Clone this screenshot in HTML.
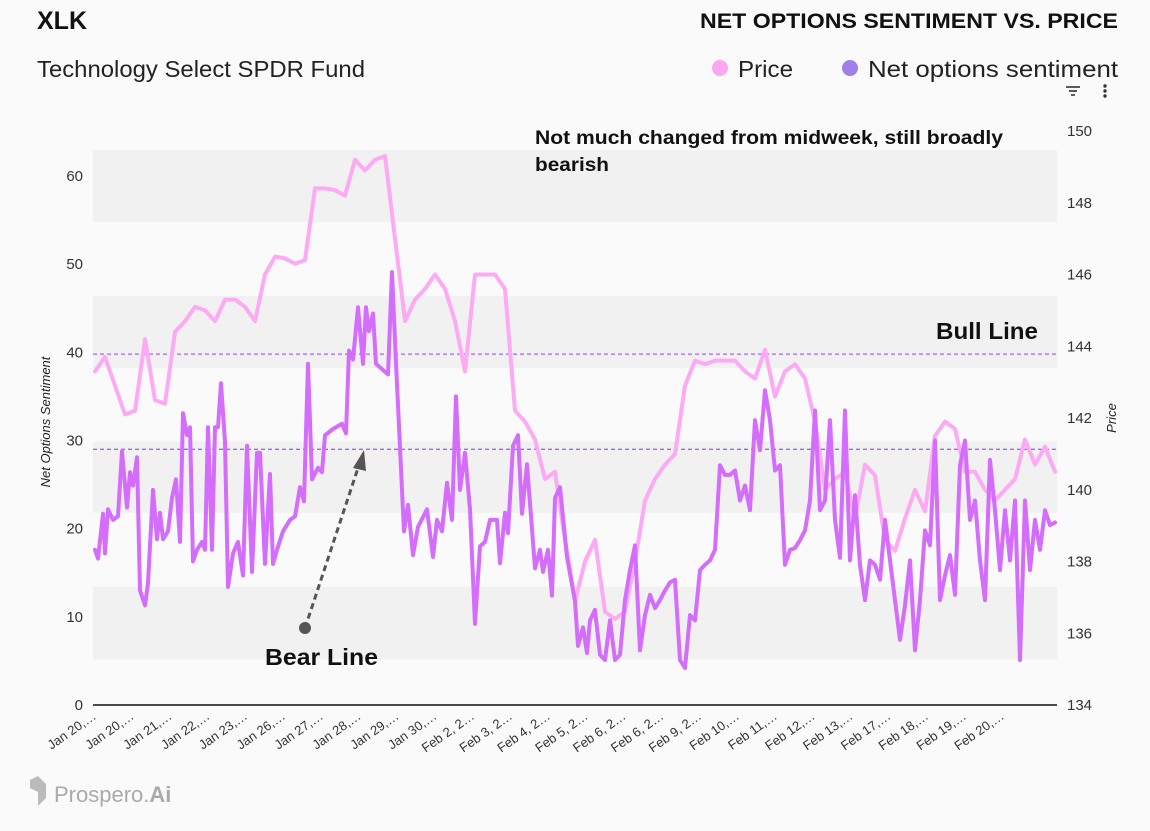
<!DOCTYPE html>
<html><head><meta charset="utf-8"><style>
body{margin:0;background:#fafafa;}
svg{display:block;font-family:"Liberation Sans","DejaVu Sans",sans-serif;}
</style></head><body>
<svg id="chart" width="1150" height="831" viewBox="0 0 1150 831" xmlns="http://www.w3.org/2000/svg">
<rect x="0" y="0" width="1150" height="831" fill="#fafafa"/>
<text x="37" y="29" font-size="25" font-weight="bold" fill="#111">XLK</text>
<text x="37" y="77" font-size="23" fill="#222" textLength="328" lengthAdjust="spacingAndGlyphs">Technology Select SPDR Fund</text>
<text x="1118" y="28" font-size="21" font-weight="bold" fill="#111" text-anchor="end" textLength="418" lengthAdjust="spacingAndGlyphs">NET OPTIONS SENTIMENT VS. PRICE</text>
<g>
<g><circle cx="720" cy="68" r="8" fill="#fca5f1"/><text x="738" y="77" font-size="23" fill="#222" textLength="55" lengthAdjust="spacingAndGlyphs">Price</text></g>
<g><circle cx="850" cy="68" r="8" fill="#a07de9"/><text x="868" y="77" font-size="23" fill="#222" textLength="250" lengthAdjust="spacingAndGlyphs">Net options sentiment</text></g>
</g>
<g stroke="#333" stroke-width="1.6"><line x1="1066" y1="87" x2="1080" y2="87"/><line x1="1069" y1="91" x2="1077" y2="91"/><line x1="1071" y1="95" x2="1075" y2="95"/></g>
<g fill="#333"><circle cx="1105" cy="86" r="1.7"/><circle cx="1105" cy="91" r="1.7"/><circle cx="1105" cy="96" r="1.7"/></g>
<g id="bands"></g>
<g id="grid"></g>
<g id="series"></g>
<g id="axes"></g>
<text x="535" y="144" font-size="19" font-weight="bold" fill="#111"><tspan x="535" y="144" textLength="468" lengthAdjust="spacingAndGlyphs">Not much changed from midweek, still broadly</tspan><tspan x="535" y="171" textLength="74" lengthAdjust="spacingAndGlyphs">bearish</tspan></text>
<text x="936" y="339" font-size="23" font-weight="bold" fill="#111" textLength="102" lengthAdjust="spacingAndGlyphs">Bull Line</text>
<text x="265" y="665" font-size="23" font-weight="bold" fill="#111" textLength="113" lengthAdjust="spacingAndGlyphs">Bear Line</text>
<g>
<line x1="305" y1="628" x2="358" y2="468" stroke="#555" stroke-width="3" stroke-dasharray="6,4"/>
<polygon points="364,450 353,468 366,471" fill="#555"/>
<circle cx="305" cy="628" r="6" fill="#555"/>
</g>
<text x="50" y="422" font-size="13" font-style="italic" fill="#222" transform="rotate(-90 50 422)" text-anchor="middle">Net Options Sentiment</text>
<text x="1116" y="418" font-size="13" font-style="italic" fill="#222" transform="rotate(-90 1116 418)" text-anchor="middle">Price</text>
<g>
<polygon points="30,780 38,776 46,784 46,798 38,806 38,792 30,788" fill="#bbb"/>
<text x="54" y="802" font-size="22" fill="#aaa">Prospero.<tspan font-weight="bold">Ai</tspan></text>
</g>
</svg>
<script>
const xLabels=["Jan 20,…","Jan 20,…","Jan 21,…","Jan 22,…","Jan 23,…","Jan 26,…","Jan 27,…","Jan 28,…","Jan 29,…","Jan 30,…","Feb 2, 2…","Feb 3, 2…","Feb 4, 2…","Feb 5, 2…","Feb 6, 2…","Feb 6, 2…","Feb 9, 2…","Feb 10,…","Feb 11,…","Feb 12,…","Feb 13,…","Feb 17,…","Feb 18,…","Feb 19,…","Feb 20,…"];
const leftTicks=[0,10,20,30,40,50,60];
const rightTicks=[134,136,138,140,142,144,146,148,150];
const bandRanges=[[54.8,62.9],[38.2,46.4],[21.8,29.9],[5.2,13.4]];
const bullLine=39.8;
const bearLine=29;
const priceStart=2;
const priceStep=10;
const priceValues=[143.3,143.7,142.9,142.1,142.2,144.2,142.5,142.4,144.4,144.7,145.1,145.0,144.7,145.3,145.3,145.1,144.7,146.0,146.5,146.45,146.3,146.4,148.4,148.4,148.35,148.2,149.2,148.9,149.2,149.3,147.0,144.7,145.3,145.6,146.0,145.6,144.7,143.3,146.0,146.0,146.0,145.6,142.2,141.9,141.4,140.3,140.5,138.6,136.9,138.0,138.6,136.6,136.4,136.6,138.0,139.7,140.3,140.7,141.0,142.9,143.6,143.5,143.6,143.6,143.6,143.3,143.1,143.9,142.6,143.3,143.5,143.1,141.9,140.0,140.3,140.5,139.2,140.7,140.4,138.6,138.3,139.2,140.0,139.4,141.5,141.9,141.7,140.5,140.5,140.0,139.7,140.0,140.3,141.4,140.7,141.2,140.5];
const sentTime=[2,5,10,12,15,20,25,29,34,37,40,44,47,52,55,60,64,67,70,75,79,83,87,90,94,97,100,104,109,112,115,119,122,125,128,132,135,140,145,150,154,159,164,167,172,177,180,184,190,197,202,207,211,215,219,225,229,232,240,249,253,256,260,265,270,273,276,280,283,290,295,299,303,309,311,315,320,325,334,340,344,349,354,359,363,367,372,377,382,387,392,397,404,407,412,415,420,425,429,434,442,447,450,455,459,462,467,474,482,485,490,494,497,502,507,512,517,522,527,532,537,542,547,552,557,562,567,572,577,582,587,592,597,602,607,612,617,622,627,632,637,642,647,652,657,662,667,672,677,682,687,692,697,702,707,712,717,722,727,732,737,742,747,752,757,762,767,772,777,782,787,792,797,802,807,812,817,822,827,832,837,842,847,852,857,862,867,872,877,882,887,892,897,902,907,912,917,922,927,932,937,942,947,952,957,962];
const sentValues=[17.6,16.6,21.7,17.2,22.2,21.0,21.4,28.8,22.4,26.4,24.9,28.1,13.0,11.3,13.8,24.4,18.8,21.8,18.8,19.7,23.5,25.6,18.5,33.1,30.6,31.5,16.3,17.6,18.5,17.6,31.5,17.6,31.5,31.5,36.5,29.8,13.4,17.2,18.5,14.7,29.4,15.1,28.6,28.6,16.0,26.2,16.0,17.6,19.7,21.0,21.4,24.7,23.1,38.7,25.6,26.9,26.4,30.6,31.3,31.9,30.8,40.2,39.2,45.1,38.7,45.1,42.4,44.4,38.7,38.0,37.5,49.1,38.8,24.4,19.7,22.7,17.0,20.2,22.2,16.8,21.0,19.7,25.2,21.0,35.0,24.4,28.6,22.2,9.2,18.0,18.5,21.0,21.0,16.1,21.8,19.5,29.4,30.6,21.7,27.3,15.5,17.6,15.1,17.6,12.4,23.5,24.7,16.8,11.8,6.7,8.8,5.9,9.6,10.8,5.7,5.1,9.6,5.1,5.7,11.9,15.3,18.1,6.2,10.2,12.5,11.0,11.9,13.0,13.9,14.2,5.1,4.2,10.2,9.6,15.3,15.9,16.4,17.6,27.2,26.1,26.1,26.6,23.2,24.9,22.1,32.3,28.9,35.7,32.3,26.6,27.2,15.9,17.6,17.8,18.7,19.8,23.2,33.4,22.1,23.2,32.3,21.0,16.7,33.4,16.4,23.8,15.9,11.9,16.4,15.9,14.2,21.0,16.4,11.9,7.4,11.3,16.4,6.2,11.9,19.8,18.1,30.0,11.9,14.7,17.0,12.5,27.2,30.0,21.0,23.2,16.4,11.9,27.8,22.1,15.3,22.1,16.4,23.2,5.1,23.2,15.3,21.0,17.6,22.1,20.4,20.7];

const NS='http://www.w3.org/2000/svg';
const X0=93,X1=1057,Y0=705;
const xScale=t=>X0+t*(X1-X0)/964;
const yLeft=v=>Y0-v*(Y0-176)/60;
const yRight=v=>Y0-(v-134)*(Y0-131)/16;
const labelX=i=>97+i*(1005-97)/(xLabels.length-1);
function mk(tag,attrs,parent){const e=document.createElementNS(NS,tag);for(const k in attrs)e.setAttribute(k,attrs[k]);parent.appendChild(e);return e;}
const bands=document.getElementById('bands'),grid=document.getElementById('grid'),series=document.getElementById('series'),axes=document.getElementById('axes');
bandRanges.forEach(([lo,hi])=>{
  const top=yLeft(hi), bot=yLeft(lo);
  const r=mk('rect',{x:X0,y:top,width:X1-X0,height:bot-top,fill:'#f1f1f1'},bands);
  
  
});
[[bullLine,'bull-line'],[bearLine,'bear-line']].forEach(([v,n])=>{
  const l=mk('line',{x1:X0,x2:X1,y1:yLeft(v),y2:yLeft(v),stroke:'#a566f5','stroke-width':1.3,'stroke-dasharray':'4,3'},grid);
  
  
});
let d='';
priceValues.forEach((v,i)=>{d+=(i?'L':'M')+xScale(priceStart+i*priceStep).toFixed(1)+','+yRight(v).toFixed(1);});
const pp=mk('path',{d:d,fill:'none',stroke:'#fdaaf4','stroke-width':4,'stroke-linejoin':'round','stroke-linecap':'round'},series);


d='';
sentValues.forEach((v,i)=>{d+=(i?'L':'M')+xScale(sentTime[i]).toFixed(1)+','+yLeft(v).toFixed(1);});
const sp=mk('path',{d:d,fill:'none',stroke:'#d46cfc','stroke-width':4,'stroke-linejoin':'round','stroke-linecap':'round'},series);


const ax=mk('line',{x1:X0,x2:X1,y1:Y0,y2:Y0,stroke:'#111','stroke-width':1.5},axes);


leftTicks.forEach(v=>{
  const t=mk('text',{x:83,y:yLeft(v)+5,'font-size':15,'text-anchor':'end',fill:'#333'},axes);
  t.textContent=v;
  
  
});
rightTicks.forEach(v=>{
  const t=mk('text',{x:1067,y:yRight(v)+5,'font-size':15,fill:'#333'},axes);
  t.textContent=v;
  
  
});
xLabels.forEach((s,i)=>{
  const x=labelX(i),y=718;
  const t=mk('text',{x:x,y:y,'font-size':13,'text-anchor':'end',fill:'#333',transform:'rotate(-35 '+x+' '+y+')'},axes);
  t.textContent=s;
  
  
});
</script>
</body></html>
